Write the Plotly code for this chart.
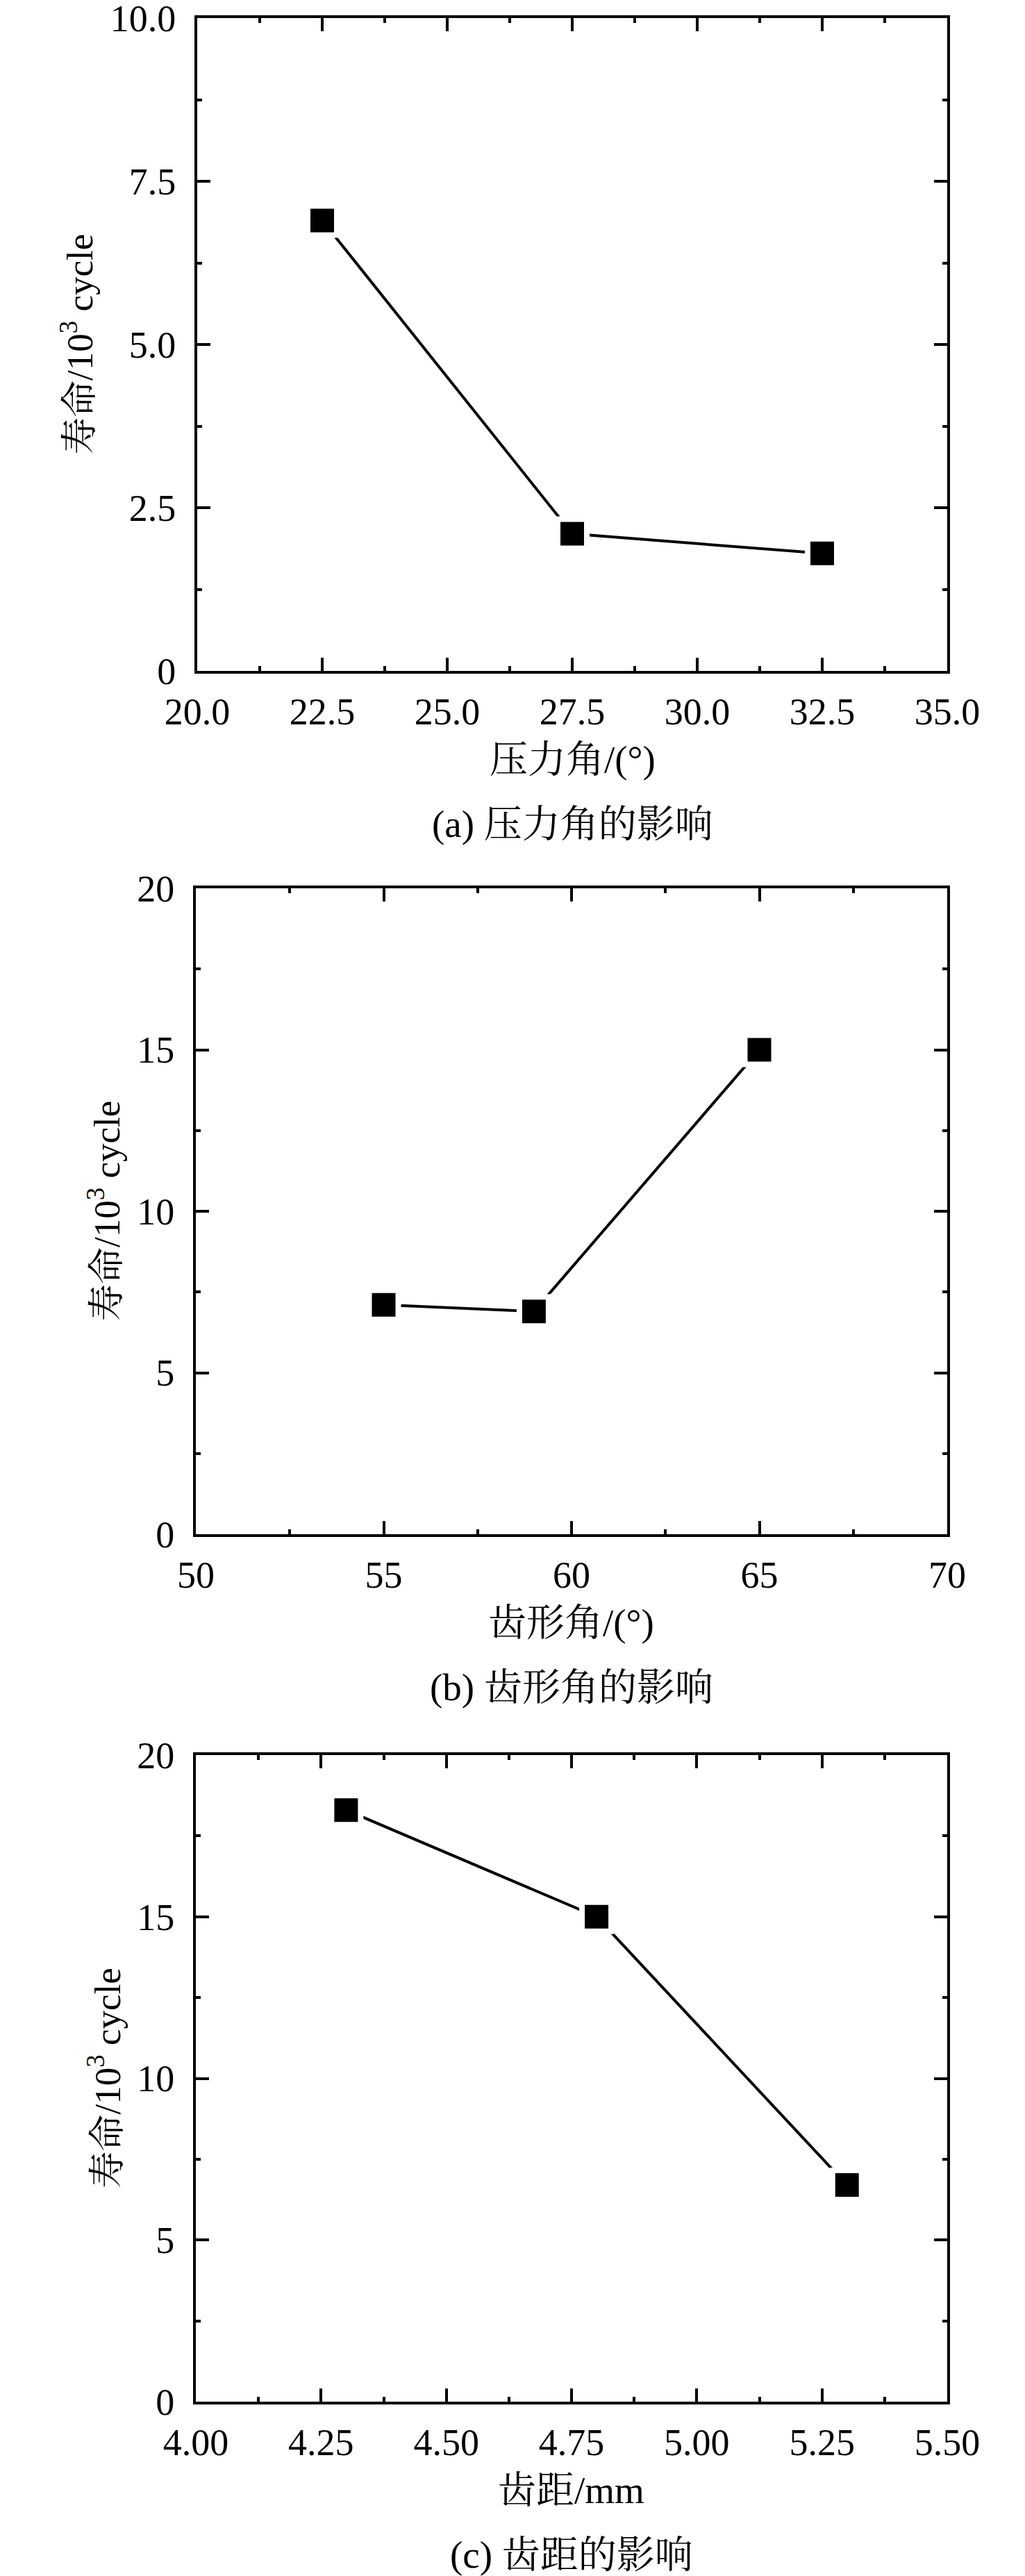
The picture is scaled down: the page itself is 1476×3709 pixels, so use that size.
#!/usr/bin/env python3

"""plot.py draws the three life-vs-parameter panels (a), (b), (c)."""

import plotly.graph_objects as go

# DATA

# (a) pressure angle
angle_a = [22.5, 27.5, 32.5]
life_a = [6.9, 2.1, 1.8]

# (b) thread profile angle
angle_b = [55, 59, 65]
life_b = [7.1, 6.9, 15.0]

# (c) pitch
pitch_c = [4.3, 4.8, 5.3]
life_c = [18.3, 15.0, 6.7]

xticks_a = [20.0, 22.5, 25.0, 27.5, 30.0, 32.5, 35.0]
yticks_a = [0, 2.5, 5.0, 7.5, 10.0]
yticktext_a = ['0', '2.5', '5.0', '7.5', '10.0']
xticks_b = [50, 55, 60, 65, 70]
yticks_bc = [0, 5, 10, 15, 20]
xticks_c = [4.00, 4.25, 4.50, 4.75, 5.00, 5.25, 5.50]

ytitle = '寿命/10<sup>3</sup> cycle'
xtitles = ['压力角/(°)', '齿形角/(°)', '齿距/mm']
captions = ['(a) 压力角的影响', '(b) 齿形角的影响', '(c) 齿距的影响']

# LAYOUT
# positions below are page pixels; the html body adds an 8 px margin,
# so the figure itself is 8 px smaller and everything is shifted by it

PAGE_W, PAGE_H = 1476, 3709
OFF = 8
W, H = PAGE_W - OFF, PAGE_H - OFF
FONT = 'Liberation Serif, Noto Serif CJK SC, Noto Sans CJK SC'
frames = [(284, 1364, 26, 966), (282, 1364, 1279, 2209), (282, 1364, 2527, 3458)]
ytitle_x = [111, 150, 150]


def px(x):
    return (x - OFF) / W


def py(y):
    return 1 - (y - OFF) / H


fig = go.Figure()

panels = [
    (angle_a, life_a, [20, 35], xticks_a, [f'{v:.1f}' for v in xticks_a], 1.25,
     [0, 10], yticks_a, yticktext_a, 1.25),
    (angle_b, life_b, [50, 70], xticks_b, [str(v) for v in xticks_b], 2.5,
     [0, 20], yticks_bc, [str(v) for v in yticks_bc], 2.5),
    (pitch_c, life_c, [4.0, 5.5], xticks_c, [f'{v:.2f}' for v in xticks_c], 0.125,
     [0, 20], yticks_bc, [str(v) for v in yticks_bc], 2.5),
]

for i, (xs, ys, xr, xtv, xtt, xminor, yr, ytv, ytt, yminor) in enumerate(panels):
    n = '' if i == 0 else str(i + 1)
    left, right, top, bottom = frames[i]

    fig.add_trace(go.Scatter(x=xs, y=ys, xaxis='x' + n, yaxis='y' + n,
                             mode='lines+markers', showlegend=False, cliponaxis=False,
                             line=dict(color='black', width=4),
                             marker=dict(symbol='square', size=42, color='black',
                                         line=dict(color='white', width=8))))

    common = dict(showline=True, linecolor='black', linewidth=4, mirror='ticks',
                  ticks='inside', ticklen=19, tickwidth=4, tickcolor='black',
                  showgrid=False, zeroline=False, automargin=False,
                  ticklabeloverflow='allow',
                  tickfont=dict(family=FONT, size=54, color='black'))
    fig.layout['xaxis' + n] = dict(
        common, domain=[px(left), px(right)], range=xr, anchor='y' + n,
        tickmode='array', tickvals=xtv, ticktext=xtt, ticklabelstandoff=8,
        minor=dict(dtick=xminor, ticks='inside', ticklen=7, tickwidth=4, tickcolor='black'))
    fig.layout['yaxis' + n] = dict(
        common, domain=[py(bottom), py(top)], range=yr, anchor='x' + n,
        tickmode='array', tickvals=ytv, ticktext=ytt, ticklabelstandoff=16,
        minor=dict(dtick=yminor, ticks='inside', ticklen=7, tickwidth=4, tickcolor='black'))

    cx = px((left + right) / 2)
    fig.add_annotation(x=cx, y=py(bottom + 127), xref='paper', yref='paper',
                       text=xtitles[i], showarrow=False, xanchor='center', yanchor='middle',
                       font=dict(family=FONT, size=55, color='black'))
    fig.add_annotation(x=cx, y=py(bottom + 220), xref='paper', yref='paper',
                       text=captions[i], showarrow=False, xanchor='center', yanchor='middle',
                       font=dict(family=FONT, size=55, color='black'))
    fig.add_annotation(x=px(ytitle_x[i]), y=py((top + bottom) / 2), xref='paper', yref='paper',
                       text=ytitle, showarrow=False, textangle=-90,
                       xanchor='center', yanchor='middle',
                       font=dict(family=FONT, size=53, color='black'))

fig.update_layout(template='none', width=W, height=H, margin=dict(l=0, r=0, t=0, b=0),
                  paper_bgcolor='white', plot_bgcolor='white')

fig.write_html("out.html")
